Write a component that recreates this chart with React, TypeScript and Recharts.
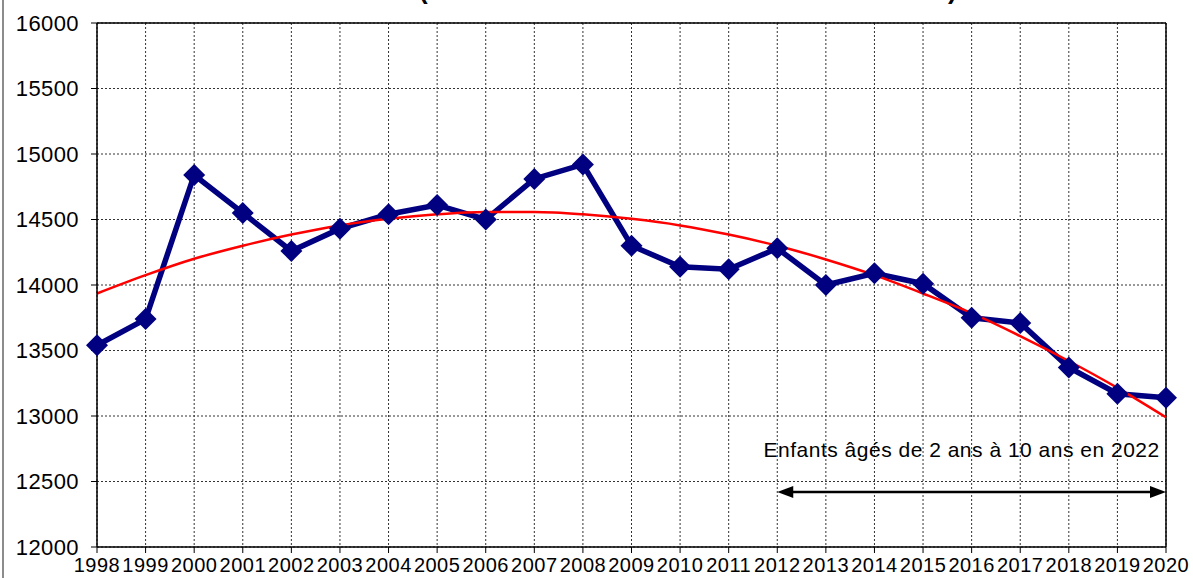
import { LineChart, Line, XAxis, YAxis, CartesianGrid, ReferenceLine } from 'recharts';

const years = [
  1998, 1999, 2000, 2001, 2002, 2003, 2004, 2005, 2006, 2007, 2008, 2009,
  2010, 2011, 2012, 2013, 2014, 2015, 2016, 2017, 2018, 2019, 2020,
];

// effectif annuel
const counts = [
  13540, 13740, 14840, 14550, 14260, 14430, 14540, 14610, 14500, 14810, 14920, 14300,
  14140, 14120, 14280, 14000, 14090, 14010, 13750, 13710, 13370, 13170, 13140,
];

// courbe de tendance
const trend = [
  13935, 14075, 14200, 14300, 14385, 14455, 14505, 14540, 14558, 14558, 14540, 14505,
  14455, 14385, 14300, 14195, 14075, 13935, 13785, 13610, 13420, 13215, 12990,
];

const yTicks = [12000, 12500, 13000, 13500, 14000, 14500, 15000, 15500, 16000];

const annotationText = 'Enfants âgés de 2 ans à 10 ans en 2022';

const data = years.map((year, i) => ({ year, count: counts[i], trend: trend[i] }));

const FONT = '"Liberation Sans", Arial, sans-serif';

function Diamond(props: any) {
  const { cx, cy } = props;
  if (cx == null || cy == null) return null;
  const r = 11;
  return (
    <polygon
      points={`${cx},${cy - r} ${cx + r},${cy} ${cx},${cy + r} ${cx - r},${cy}`}
      fill="#000080"
    />
  );
}

function DoubleArrow(props: any) {
  const { x1, y1, x2 } = props;
  const head = 16;
  const half = 6;
  return (
    <g>
      <line x1={x1 + head - 2} y1={y1} x2={x2 - head + 2} y2={y1} stroke="#000" strokeWidth={2.5} />
      <polygon points={`${x1},${y1} ${x1 + head},${y1 - half} ${x1 + head},${y1 + half}`} fill="#000" />
      <polygon points={`${x2},${y1} ${x2 - head},${y1 - half} ${x2 - head},${y1 + half}`} fill="#000" />
    </g>
  );
}

function AnnotationLabel(props: any) {
  const { x1, y1, x2 } = props;
  return (
    <text
      x={(x1 + x2) / 2 - 10}
      y={y1}
      textAnchor="middle"
      dominantBaseline="central"
      fontFamily={FONT}
      fontSize={21}
      letterSpacing={0.5}
      fill="#000"
    >
      {annotationText}
    </text>
  );
}

export default function App() {
  return (
    <div style={{ position: 'absolute', left: 0, top: 0, width: 1193, height: 578, background: '#fff' }}>
      <div style={{ position: 'absolute', left: 2, top: 0, width: 2, height: 578, background: '#8c8c8c' }} />
      <svg width={1193} height={20} style={{ position: 'absolute', left: 0, top: 0 }}>
        <text x={419} y={-1} fontFamily={FONT} fontWeight="bold" fontSize={26} fill="#000">(</text>
        <text x={948} y={-1} fontFamily={FONT} fontWeight="bold" fontSize={26} fill="#000">)</text>
      </svg>
      <LineChart
        width={1193}
        height={578}
        data={data}
        margin={{ top: 23, right: 27, bottom: 0, left: 0 }}
        style={{ position: 'absolute', left: 0, top: 0 }}
      >
        <CartesianGrid stroke="#333" strokeDasharray="2 2" strokeWidth={1} />
        <XAxis
          dataKey="year"
          type="category"
          interval={0}
          height={31}
          tickSize={6}
          tickMargin={5}
          tick={{ fontSize: 20, fill: '#000', fontFamily: FONT, letterSpacing: 0.5 }}
          axisLine={{ stroke: '#000', strokeWidth: 1.5 }}
          tickLine={{ stroke: '#000' }}
        />
        <YAxis
          domain={[12000, 16000]}
          ticks={yTicks}
          interval={0}
          width={97}
          tickSize={6}
          tickMargin={12}
          tick={{ fontSize: 22, fill: '#000', fontFamily: FONT, letterSpacing: 0.4 }}
          axisLine={{ stroke: '#000', strokeWidth: 1.5 }}
          tickLine={{ stroke: '#000' }}
        />
        <ReferenceLine y={16000} stroke="#000" strokeWidth={1.5} />
        <ReferenceLine x={2020} stroke="#000" strokeWidth={1.5} />
        <Line
          type="linear"
          dataKey="count"
          stroke="#000080"
          strokeWidth={5.5}
          dot={<Diamond />}
          activeDot={false}
          isAnimationActive={false}
        />
        <Line
          type="monotone"
          dataKey="trend"
          stroke="#ff0000"
          strokeWidth={2.5}
          dot={false}
          activeDot={false}
          isAnimationActive={false}
        />
        <ReferenceLine
          segment={[{ x: 2012, y: 12745 }, { x: 2020, y: 12745 }]}
          shape={<AnnotationLabel />}
          ifOverflow="visible"
        />
        <ReferenceLine
          segment={[{ x: 2012, y: 12420 }, { x: 2020, y: 12420 }]}
          shape={<DoubleArrow />}
          ifOverflow="visible"
        />
      </LineChart>
    </div>
  );
}
